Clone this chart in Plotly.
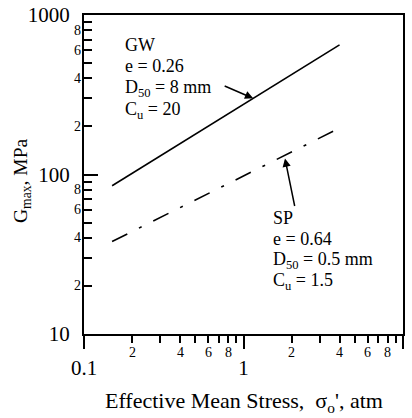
import numpy as np
import plotly.graph_objects as go

# ---------------- data ----------------
STRESS_GW = [0.15, 4.0]
GMAX_GW = [85, 650]
STRESS_SP = [0.15, 3.9]
GMAX_SP = [38, 193]

X_MAJOR = [0.1, 1, 10]
X_MAJOR_TEXT = ["0.1", "1", "10"]
Y_MAJOR = [10, 100, 1000]
Y_MAJOR_TEXT = ["10", "100", "1000"]
MINOR_DIGITS = [2, 3, 4, 5, 6, 7, 8, 9]
MINOR_LABELS = [2, 4, 6, 8]
X_DECADES = [0.1, 1]
Y_DECADES = [10, 100]

GW_TEXT = ["GW", "e = 0.26", "D<sub>50</sub> = 8 mm", "C<sub>u</sub> = 20"]
SP_TEXT = ["SP", "e = 0.64", "D<sub>50</sub> = 0.5 mm", "C<sub>u</sub> = 1.5"]
GW_ARROW_X = 1.15
SP_ARROW_X = 1.82

FONT = "Liberation Serif, Times New Roman, DejaVu Serif, serif"

# ---------------- layout geometry ----------------
W, H = 412, 418
L, R, T, B = 84, 9, 15, 84
PW, PH = W - L - R, H - T - B


def px(xp):
    return (xp - L) / PW


def py(yp):
    return (H - B - yp) / PH


def on_line(xs, ys, x):
    lx, ly = np.log10(xs), np.log10(ys)
    return 10 ** np.interp(np.log10(x), lx, ly)


fig = go.Figure()
fig.add_trace(go.Scatter(x=STRESS_GW, y=GMAX_GW, mode="lines",
                         line=dict(color="black", width=1.6), showlegend=False))
fig.add_trace(go.Scatter(x=STRESS_SP, y=GMAX_SP, mode="lines",
                         line=dict(color="black", width=1.6, dash="17px,13px,3px,13px"),
                         showlegend=False))

x_minor = [d * m for d in X_DECADES for m in MINOR_DIGITS]
y_minor = [d * m for d in Y_DECADES for m in MINOR_DIGITS]

fig.update_xaxes(type="log", range=[-1, 1], showgrid=False, zeroline=False,
                 showline=True, linecolor="black", linewidth=2, mirror=True,
                 ticks="outside", tickvals=X_MAJOR, ticktext=X_MAJOR_TEXT,
                 ticklen=13, tickwidth=2, tickcolor="black",
                 tickfont=dict(family=FONT, size=21, color="black"),
                 ticklabelstandoff=1, automargin=False,
                 minor=dict(tickvals=x_minor, ticks="outside", ticklen=7,
                            tickwidth=1.5, tickcolor="black", showgrid=False))
fig.update_yaxes(type="log", range=[1, 3], showgrid=False, zeroline=False,
                 showline=True, linecolor="black", linewidth=2, mirror=True,
                 ticks="inside", tickvals=Y_MAJOR, ticktext=Y_MAJOR_TEXT,
                 ticklen=14, tickwidth=2, tickcolor="black",
                 tickfont=dict(family=FONT, size=21, color="black"),
                 ticklabelstandoff=8, automargin=False,
                 minor=dict(tickvals=y_minor, ticks="inside", ticklen=8,
                            tickwidth=1.5, tickcolor="black", showgrid=False))

ann = []
# minor tick labels
for d in X_DECADES:
    for m in MINOR_LABELS:
        ann.append(dict(x=np.log10(d * m), xref="x", y=0, yref="paper",
                        text=str(m), showarrow=False, xanchor="center",
                        yanchor="middle", yshift=-18,
                        font=dict(family=FONT, size=14, color="black")))
for d in Y_DECADES:
    for m in MINOR_LABELS:
        ann.append(dict(x=0, xref="paper", y=np.log10(d * m), yref="y",
                        text=str(m), showarrow=False, xanchor="right",
                        yanchor="middle", xshift=-1,
                        font=dict(family=FONT, size=14, color="black")))

# text blocks (y given as text baseline in px)
GW_BASE = [50, 71, 92, 114]
SP_BASE = [223, 244, 264, 285]
for t, b in zip(GW_TEXT, GW_BASE):
    ann.append(dict(x=px(123), y=py(b - 17), xref="paper", yref="paper",
                    text=t, showarrow=False, xanchor="left", yanchor="top",
                    font=dict(family=FONT, size=18, color="black")))
for t, b in zip(SP_TEXT, SP_BASE):
    ann.append(dict(x=px(271), y=py(b - 17), xref="paper", yref="paper",
                    text=t, showarrow=False, xanchor="left", yanchor="top",
                    font=dict(family=FONT, size=18, color="black")))

# arrows
ann.append(dict(x=np.log10(GW_ARROW_X), y=np.log10(on_line(STRESS_GW, GMAX_GW, GW_ARROW_X)),
                xref="x", yref="y", ax=-30, ay=-13, text="", showarrow=True,
                arrowhead=2, arrowsize=1.1, arrowwidth=1.5, arrowcolor="black"))
ann.append(dict(x=np.log10(SP_ARROW_X), y=np.log10(on_line(STRESS_SP, GMAX_SP, SP_ARROW_X)) - 0.02,
                xref="x", yref="y", ax=10, ay=49, text="", showarrow=True,
                arrowhead=2, arrowsize=1.1, arrowwidth=1.5, arrowcolor="black"))

# axis titles
ann.append(dict(x=px(244), y=py(402), xref="paper", yref="paper",
                text="Effective Mean Stress,  σ<sub>o</sub>', atm", showarrow=False,
                xanchor="center", yanchor="middle",
                font=dict(family=FONT, size=22, color="black")))
ann.append(dict(x=px(22), y=py(181), xref="paper", yref="paper",
                text="G<sub>max</sub>, MPa", showarrow=False, textangle=-90,
                xanchor="center", yanchor="middle",
                font=dict(family=FONT, size=19.5, color="black")))

fig.update_layout(width=W, height=H, margin=dict(l=L, r=R, t=T, b=B),
                  paper_bgcolor="white", plot_bgcolor="white",
                  template="none", annotations=ann, showlegend=False)

fig.write_html("out.html")
